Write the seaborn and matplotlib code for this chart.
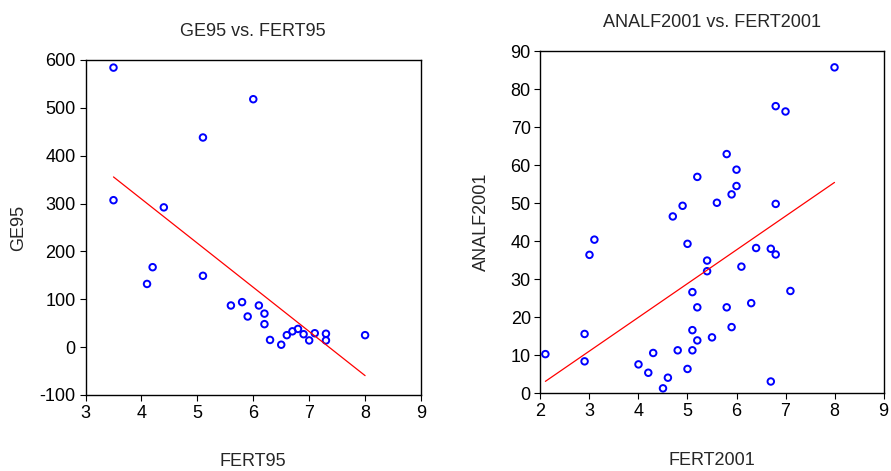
import numpy as np
import matplotlib
matplotlib.use("Agg")
import matplotlib.pyplot as plt
import pandas as pd
import seaborn as sns

# GE95 vs. FERT95
fert95 = [3.5, 6.0, 5.1, 3.5, 4.4, 4.2, 4.1, 5.1, 5.6, 5.8, 6.1, 5.9, 6.2,
          6.2, 6.3, 6.5, 6.6, 6.7, 6.8, 6.9, 7.0, 7.1, 7.3, 7.3, 8.0]
ge95 = [584, 518, 438, 307, 292, 167, 132, 149, 87, 94, 87, 64, 70,
        48, 15, 5, 25, 33, 38, 27, 14, 29, 28, 14, 25]

# ANALF2001 vs. FERT2001
fert2001 = [8.0, 6.8, 7.0, 5.8, 6.0, 5.2, 6.0, 5.9, 5.6, 6.8, 4.9, 4.7, 3.1, 5.0,
            3.0, 6.4, 6.7, 6.8, 5.4, 5.4, 6.1, 5.1, 7.1, 5.2, 5.8, 6.3, 2.9, 5.1,
            5.9, 5.5, 5.2, 2.1, 4.3, 4.8, 5.1, 2.9, 4.0, 4.2, 5.0, 4.6, 4.5, 6.7]
analf2001 = [85.7, 75.5, 74.1, 62.9, 58.8, 56.9, 54.5, 52.3, 50.1, 49.8, 49.3, 46.5, 40.4, 39.3,
             36.4, 38.2, 38.0, 36.5, 34.9, 32.1, 33.3, 26.6, 26.9, 22.6, 22.6, 23.7, 15.6, 16.6,
             17.4, 14.7, 13.9, 10.3, 10.6, 11.3, 11.3, 8.4, 7.6, 5.4, 6.4, 4.1, 1.3, 3.1]

df1 = pd.DataFrame({"FERT95": fert95, "GE95": ge95})
df2 = pd.DataFrame({"FERT2001": fert2001, "ANALF2001": analf2001})

sns.set_style("white")
plt.rcParams['font.family'] = ['Liberation Sans', 'DejaVu Sans']
plt.rcParams['font.size'] = 13
plt.rcParams['axes.unicode_minus'] = False

fig = plt.figure(figsize=(8.91, 4.71), dpi=100)
ax1 = fig.add_axes([0.096, 0.1614, 0.3765, 0.7113])
ax2 = fig.add_axes([0.6066, 0.165, 0.385, 0.7267])

panels = [
    (ax1, df1, "FERT95", "GE95", (3, 9), (-100, 600), np.arange(3, 10), np.arange(-100, 601, 100), -0.174),
    (ax2, df2, "FERT2001", "ANALF2001", (2, 9), (0, 90), np.arange(2, 10), np.arange(0, 91, 10), -0.147),
]

for ax, df, xcol, ycol, xlim, ylim, xt, yt, ylab_x in panels:
    sns.regplot(data=df, x=xcol, y=ycol, ax=ax, ci=None,
                scatter_kws=dict(s=22, facecolors="none", edgecolors="blue",
                                 linewidths=1.4, alpha=1),
                line_kws=dict(color="red", linewidth=0.9))
    ax.set_xlim(*xlim)
    ax.set_ylim(*ylim)
    ax.set_xticks(xt)
    ax.set_yticks(yt)
    ax.tick_params(direction="out", length=4, width=0.8, pad=3, labelsize=13,
                   bottom=True, left=True, colors="black")
    for sp in ax.spines.values():
        sp.set_color("black")
        sp.set_linewidth(1.0)
        sp.set_visible(True)
    ax.set_title(f"{ycol} vs. {xcol}", fontsize=13, pad=17)
    ax.set_xlabel(xcol, fontsize=13)
    ax.set_ylabel(ycol, fontsize=13)
    ax.xaxis.set_label_coords(0.5, -0.172)
    ax.yaxis.set_label_coords(ylab_x, 0.5)

plt.savefig("out.png", dpi=100)
